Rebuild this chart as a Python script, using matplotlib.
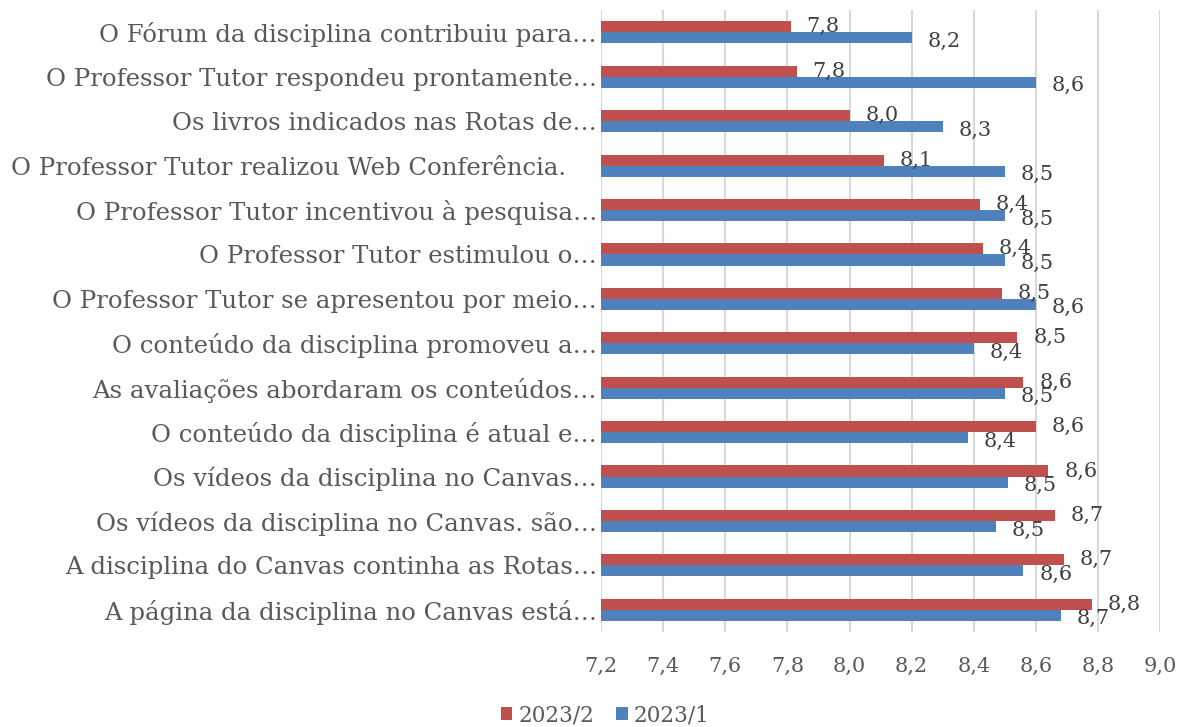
import matplotlib
matplotlib.use("Agg")
import matplotlib.pyplot as plt
import numpy as np

categories = [
    "O Fórum da disciplina contribuiu para…",
    "O Professor Tutor respondeu prontamente…",
    "Os livros indicados nas Rotas de…",
    "O Professor Tutor realizou Web Conferência.    ",
    "O Professor Tutor incentivou à pesquisa…",
    "O Professor Tutor estimulou o…",
    "O Professor Tutor se apresentou por meio…",
    "O conteúdo da disciplina promoveu a…",
    "As avaliações abordaram os conteúdos…",
    "O conteúdo da disciplina é atual e…",
    "Os vídeos da disciplina no Canvas…",
    "Os vídeos da disciplina no Canvas. são…",
    "A disciplina do Canvas continha as Rotas…",
    "A página da disciplina no Canvas está…",
]
s2023_2 = [7.81, 7.83, 8.00, 8.11, 8.42, 8.43, 8.49, 8.54, 8.56, 8.60, 8.64, 8.66, 8.69, 8.78]
s2023_1 = [8.20, 8.60, 8.30, 8.50, 8.50, 8.50, 8.60, 8.40, 8.50, 8.38, 8.51, 8.47, 8.56, 8.68]
xticks = [7.2, 7.4, 7.6, 7.8, 8.0, 8.2, 8.4, 8.6, 8.8, 9.0]

RED = "#C0504D"
BLUE = "#4F81BD"

plt.rcParams["font.family"] = ["DejaVu Serif"]

fig = plt.figure(figsize=(11.79, 7.27), dpi=100)
ax = fig.add_axes([0.5098, 0.1307, 0.9840 - 0.5098, 0.986 - 0.1307])

y = np.arange(len(categories))
h = 0.25
ax.barh(y - h / 2, np.array(s2023_2) - 7.2, left=7.2, height=h, color=RED, label="2023/2", zorder=3)
ax.barh(y + h / 2, np.array(s2023_1) - 7.2, left=7.2, height=h, color=BLUE, label="2023/1", zorder=3)

fmt = lambda v: f"{v:.1f}".replace(".", ",")
for i, (a, b) in enumerate(zip(s2023_2, s2023_1)):
    ax.annotate(fmt(a), (a, i - h / 2), xytext=(11.5, 0), textcoords="offset points",
                va="center", ha="left", fontsize=15, color="#404040", zorder=4)
    ax.annotate(fmt(b), (b, i + h / 2), xytext=(11.5, -2.5), textcoords="offset points",
                va="center", ha="left", fontsize=15, color="#404040", zorder=4)

ax.set_xlim(7.2, 9.0)
ax.set_ylim(len(categories) - 0.5, -0.5)
ax.set_xticks(xticks)
ax.set_xticklabels([fmt(t) for t in xticks], fontsize=15, color="#595959")
ax.set_yticks(y)
ax.set_yticklabels(categories, fontsize=17.6, color="#595959")
ax.tick_params(axis="both", length=0)
ax.tick_params(axis="x", pad=18)
ax.tick_params(axis="y", pad=3)
ax.grid(axis="x", color="#D9D9D9", linewidth=1.5, zorder=0)
for s in ax.spines.values():
    s.set_visible(False)

ax.legend(loc="center", bbox_to_anchor=(0.5136, 0.0165), bbox_transform=fig.transFigure,
          ncol=2, frameon=False, fontsize=15.5, handlelength=0.52, handleheight=0.52,
          handletextpad=0.3, columnspacing=1.0, labelcolor="#595959")

fig.savefig("out.png", dpi=100)
